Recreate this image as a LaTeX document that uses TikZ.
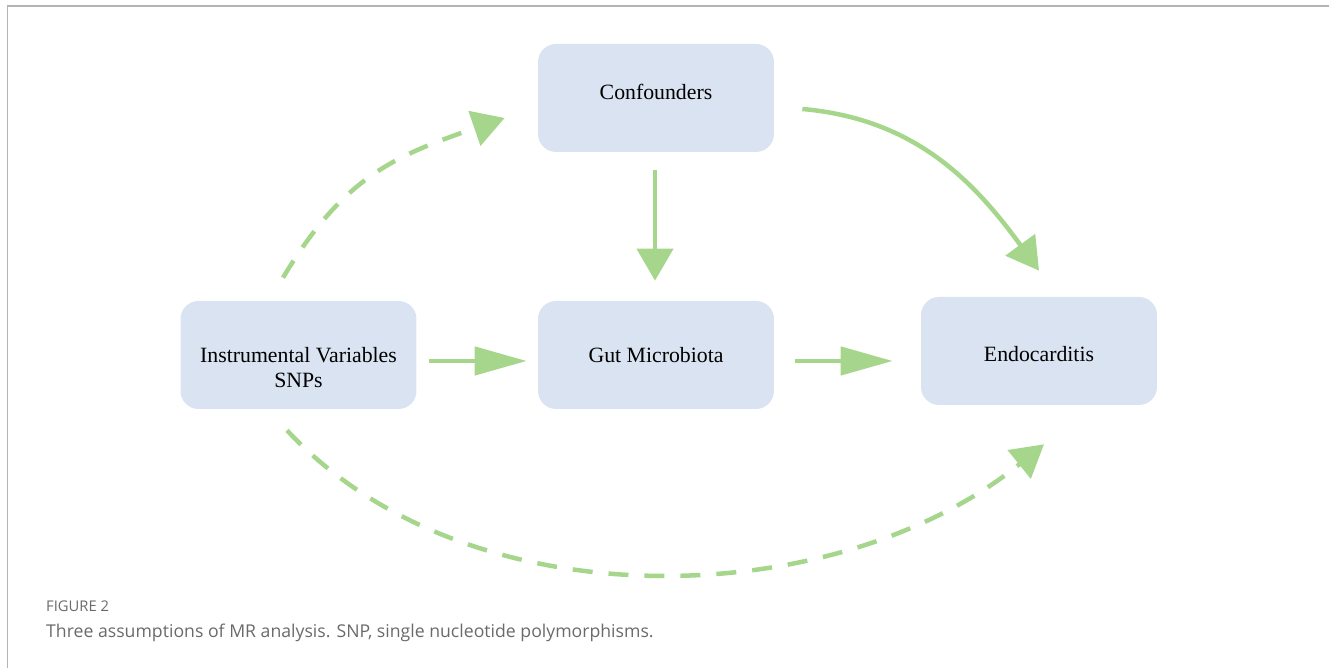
\documentclass[tikz,border=0pt]{standalone}
\usepackage{fontspec}
\setmainfont{Liberation Serif}
\newfontfamily\capfont{Open Sans}
\usepackage{tikz}
\usetikzlibrary{arrows.meta,positioning,calc}

\definecolor{boxfill}{HTML}{D9E3F2}
\definecolor{arrowgreen}{HTML}{A5D68C}
\definecolor{framegray}{HTML}{B4B4B4}
\definecolor{capgray}{HTML}{6A6A6A}

\tikzset{
  factor/.style={fill=boxfill, rounded corners=0.36cm, minimum width=4.72cm, minimum height=2.16cm},
  boxtext/.style={align=center, font=\fontsize{12.4}{14.2}\selectfont},
  longhead/.style={-{Triangle[length=1.04cm,width=0.56cm]}},
  shorthead/.style={-{Triangle[length=0.64cm,width=0.72cm]}},
  link/.style={draw=arrowgreen, line width=0.09cm},
  indirect/.style={link, dash pattern=on 0.4cm off 0.32cm}
}

\begin{document}
\begin{tikzpicture}[x=0.02cm, y=0.02cm]
 \useasboundingbox (0,0) rectangle (1329,668);
 \draw[framegray, line width=0.04cm] (7.5,0) -- (7.5,661.5) -- (1329,661.5);

 \node[factor, label={[boxtext, yshift=0.12cm]center:Confounders}](conf) at (656,570) {};
 \node[factor, label={[boxtext, yshift=-0.25cm]center:Instrumental Variables \\ SNPs}](iv) at (298.5,313) {};
 \node[factor, label={[boxtext]center:Gut Microbiota}](gut) at (656,313) {};
 \node[factor, label={[boxtext, yshift=-0.06cm]center:Endocarditis}](endo) at (1039,317) {};

 \path ($(iv.east)+(12,-6)$) edge[link, longhead] ($(gut.west)+(-11,-6)$)
       ($(gut.east)+(21,-6)$) edge[link, longhead] ($(endo.west)+(-28,-10)$);

 \path ($(conf.south)+(-1,-18)$) edge[link, shorthead] ($(gut.north)+(-1,20)$)
       ($(conf.east)+(28,-11)$) edge[link, shorthead, out=-5, in=126] ($(endo.north)+(0,26)$);

 \path ($(iv.north)+(-15.5,23)$) edge[indirect, shorthead, out=59, in=199, looseness=1.1] ($(conf.west)+(-33,-20)$)
       ($(iv.south)+(-11.5,-21)$) edge[indirect, shorthead, out=-47, in=219, looseness=0.9] ($(endo.south)+(5,-39)$);

 \node[anchor=base west, text=capgray, font=\capfont\fontsize{8.4}{10}\selectfont] (figlabel) at (40,56) {FIGURE 2};
 \node[anchor=base west, text=capgray, font=\capfont\fontsize{10.05}{12}\selectfont] (caption) at (40,30)
   {Three assumptions of MR analysis. SNP, single nucleotide polymorphisms.};
\end{tikzpicture}
\end{document}
